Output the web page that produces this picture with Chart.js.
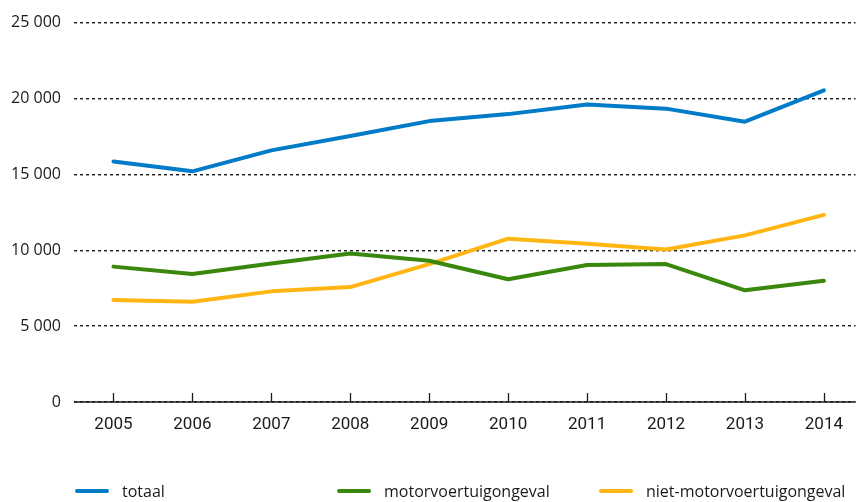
<!DOCTYPE html>
<html>
<head>
<meta charset="utf-8">
<script src="https://cdn.jsdelivr.net/npm/chart.js@4/dist/chart.umd.min.js"></script>
<style>
  html, body { margin: 0; padding: 0; background: #fff; }
  #wrap { position: relative; width: 856px; height: 502px; }
  #legend {
    position: absolute; left: 75px; top: 480px; height: 22px;
    display: flex; font-family: "Open Sans", sans-serif; font-size: 16px; color: #1a1a1a;
  }
  .item { width: 262px; display: flex; align-items: center; white-space: nowrap; }
  .swatch { width: 34px; height: 4px; border-radius: 2px; margin-right: 13px; }
</style>
</head>
<body>
<div id="wrap">
  <canvas id="chart" width="856" height="502"></canvas>
  <div id="legend"></div>
</div>
<script>
const years = [2005, 2006, 2007, 2008, 2009, 2010, 2011, 2012, 2013, 2014];
const totaal = [15850, 15200, 16580, 17530, 18510, 18970, 19600, 19330, 18470, 20530];
const motorvoertuig = [8920, 8440, 9130, 9780, 9310, 8090, 9030, 9090, 7360, 7990];
const nietMotorvoertuig = [6720, 6600, 7290, 7570, 9080, 10760, 10420, 10050, 10980, 12330];
const yTicks = [0, 5000, 10000, 15000, 20000, 25000];

const seriesLabels = ["totaal", "motorvoertuigongeval", "niet-motorvoertuigongeval"];
const seriesColors = ["#007bc7", "#39870c", "#ffb612"];

function withSpaces(v) {
  return String(v).replace(/\B(?=(\d{3})+(?!\d))/g, " ");
}

function toPoints(values) {
  return values.map((v, i) => ({ x: years[i], y: v }));
}

// small upward tick marks on the baseline, plus the solid zero line
const baselineTicks = {
  id: "baselineTicks",
  afterDraw(chart) {
    const { ctx, scales: { x, y } } = chart;
    const base = y.getPixelForValue(0);
    ctx.save();
    ctx.strokeStyle = "#1a1a1a";
    ctx.lineWidth = 1.5;
    ctx.beginPath();
    ctx.moveTo(chart.chartArea.left, base);
    ctx.lineTo(chart.chartArea.right, base);
    ctx.stroke();
    ctx.lineWidth = 1.3;
    years.forEach((yr) => {
      const px = Math.round(x.getPixelForValue(yr)) + 0.5;
      ctx.beginPath();
      ctx.moveTo(px, base);
      ctx.lineTo(px, base - 9);
      ctx.stroke();
    });
    ctx.restore();
  },
};

const ctx = document.getElementById("chart").getContext("2d");
const chart = new Chart(ctx, {
  type: "line",
  data: {
    datasets: [
      { label: seriesLabels[0], data: toPoints(totaal), borderColor: seriesColors[0] },
      { label: seriesLabels[1], data: toPoints(motorvoertuig), borderColor: seriesColors[1] },
      { label: seriesLabels[2], data: toPoints(nietMotorvoertuig), borderColor: seriesColors[2] },
    ],
  },
  options: {
    responsive: false,
    animation: false,
    layout: { padding: { top: 18, right: 0, left: 0, bottom: 0 } },
    elements: {
      line: { borderWidth: 4, tension: 0, borderCapStyle: "round", borderJoinStyle: "round", fill: false },
      point: { radius: 0 },
    },
    clip: false,
    plugins: { legend: { display: false }, tooltip: { enabled: false } },
    scales: {
      x: {
        type: "linear",
        min: 2004.5,
        max: 2014.4,
        afterBuildTicks: (scale) => { scale.ticks = years.map((v) => ({ value: v })); },
        afterFit: (scale) => { scale.height = 100; },
        grid: { display: false, drawTicks: false },
        border: { display: false },
        ticks: {
          padding: 13,
          color: "#1a1a1a",
          font: { family: "Roboto, 'Open Sans', sans-serif", size: 17 },
          callback: (v) => String(v),
        },
      },
      y: {
        min: 0,
        max: 25000,
        afterBuildTicks: (scale) => { scale.ticks = yTicks.map((v) => ({ value: v })); },
        afterFit: (scale) => { scale.width = 74; },
        grid: { color: "#1a1a1a", lineWidth: 1.4, drawTicks: false },
        border: { display: false, dash: [3, 3] },
        ticks: {
          padding: 13,
          color: "#1a1a1a",
          font: { family: "'Open Sans', sans-serif", size: 16 },
          callback: (v) => withSpaces(v),
        },
      },
    },
  },
  plugins: [baselineTicks],
});

// legend in fixed columns below the chart
const legend = document.getElementById("legend");
chart.data.datasets.forEach((ds) => {
  const item = document.createElement("div");
  item.className = "item";
  const sw = document.createElement("span");
  sw.className = "swatch";
  sw.style.background = ds.borderColor;
  const txt = document.createElement("span");
  txt.textContent = ds.label;
  item.appendChild(sw);
  item.appendChild(txt);
  legend.appendChild(item);
});
</script>
</body>
</html>
